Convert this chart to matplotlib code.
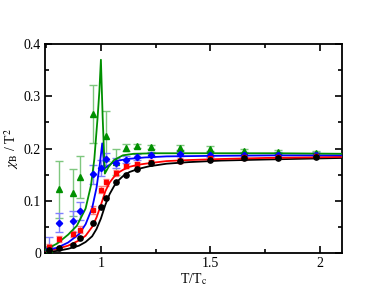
import numpy as np
import matplotlib
matplotlib.use("Agg")
import matplotlib.pyplot as plt
from matplotlib.ticker import MultipleLocator

plt.rcParams['font.family'] = ['Liberation Serif', 'DejaVu Serif']
plt.rcParams['mathtext.fontset'] = 'stix'

# lattice points
T_pts = [0.763, 0.808, 0.874, 0.903, 0.962, 1.002, 1.022, 1.068, 1.113, 1.163, 1.23, 1.36, 1.5, 1.653, 1.81, 1.98]
black_pts = [0.005, 0.010, 0.015, 0.028, 0.057, 0.088, 0.105, 0.135, 0.149, 0.160, 0.172, 0.177, 0.179, 0.181, 0.182, 0.183]
red_pts = [0.012, 0.027, 0.036, 0.045, 0.082, 0.121, 0.135, 0.153, 0.167, 0.171, 0.174, 0.177, 0.181, 0.183, 0.184, 0.185]
red_err = [0.005, 0.005, 0.006, 0.006, 0.008, 0.007, 0.006, 0.005, 0.004, 0.004, 0.004, 0.004, 0.004, 0.004, 0.004, 0.004]
blue_pts = [0.010, 0.058, 0.061, 0.080, 0.151, 0.163, 0.180, 0.172, 0.179, 0.184, 0.188, 0.190, 0.188, 0.188, 0.188, 0.188]
blue_err = [0.020, 0.018, 0.020, 0.017, 0.018, 0.015, 0.012, 0.010, 0.006, 0.005, 0.005, 0.005, 0.005, 0.005, 0.005, 0.005]
green_pts = [0.008, 0.122, 0.115, 0.146, 0.266, None, 0.224, 0.175, 0.202, 0.205, 0.203, 0.202, 0.200, 0.196, 0.193, 0.192]
green_err = [0.005, 0.055, 0.045, 0.040, 0.055, None, 0.048, 0.025, 0.006, 0.004, 0.004, 0.004, 0.004, 0.004, 0.004, 0.004]

# model curves
T_curve = [0.745, 0.80, 0.85, 0.90, 0.93, 0.96, 0.98, 1.0, 1.02, 1.04, 1.06, 1.08, 1.10, 1.13, 1.17, 1.22, 1.30, 1.40, 1.55, 1.75, 2.1]
black_curve = [0.002, 0.004, 0.008, 0.014, 0.021, 0.032, 0.046, 0.066, 0.092, 0.113, 0.128, 0.139, 0.147, 0.155, 0.161, 0.166, 0.171, 0.174, 0.177, 0.179, 0.182]
red_curve = [0.004, 0.008, 0.014, 0.024, 0.033, 0.050, 0.068, 0.092, 0.118, 0.135, 0.146, 0.154, 0.159, 0.165, 0.169, 0.172, 0.176, 0.178, 0.180, 0.182, 0.184]
T_blue = [0.745, 0.80, 0.85, 0.90, 0.93, 0.96, 0.98, 0.995, 1.006, 1.016, 1.03, 1.05, 1.08, 1.12, 1.2, 1.3, 1.5, 1.8, 2.1]
blue_curve = [0.005, 0.010, 0.020, 0.036, 0.055, 0.086, 0.125, 0.170, 0.210, 0.162, 0.166, 0.172, 0.177, 0.180, 0.183, 0.185, 0.186, 0.187, 0.187]
T_green = [0.745, 0.80, 0.85, 0.89, 0.93, 0.955, 0.97, 0.985, 0.993, 1.0, 1.008, 1.018, 1.035, 1.06, 1.10, 1.15, 1.25, 1.5, 1.8, 2.1]
green_curve = [0.006, 0.018, 0.035, 0.052, 0.085, 0.130, 0.180, 0.260, 0.310, 0.370, 0.260, 0.152, 0.165, 0.178, 0.187, 0.190, 0.191, 0.191, 0.191, 0.190]

GREEN = '#009000'
BLUE = '#0000ff'
RED = '#ff0000'

fig = plt.figure(figsize=(3.85, 2.98), dpi=100)
ax = fig.add_axes([0.117, 0.151, 0.771, 0.701])

ax.plot(T_curve, black_curve, color='k', lw=1.3, zorder=3)
ax.plot(T_curve, red_curve, color=RED, lw=1.3, zorder=3)
ax.plot(T_blue, blue_curve, color=BLUE, lw=1.3, zorder=3)
ax.plot(T_green, green_curve, color=GREEN, lw=1.3, zorder=3)

g = [(t, v, e) for t, v, e in zip(T_pts, green_pts, green_err) if v is not None]
gt, gv, ge = zip(*g)
ax.errorbar(gt, gv, yerr=ge, fmt='none', ecolor='#7fc77f', elinewidth=1, capsize=3, zorder=2)
ax.plot(gt, gv, '^', color=GREEN, ms=4.2, zorder=4)
ax.errorbar(T_pts, blue_pts, yerr=blue_err, fmt='none', ecolor='#8080ff', elinewidth=1, capsize=3, zorder=2)
ax.plot(T_pts, blue_pts, 'D', color=BLUE, ms=3.2, zorder=4)
ax.errorbar(T_pts, red_pts, yerr=red_err, fmt='none', ecolor='#ff8080', elinewidth=1, capsize=2, zorder=2)
ax.plot(T_pts, red_pts, 's', color=RED, ms=3.4, zorder=4)
ax.plot(T_pts, black_pts, 'o', color='k', ms=3.8, zorder=4)

ax.set_xlim(0.745, 2.1)
ax.set_ylim(0, 0.4)
ax.xaxis.set_minor_locator(MultipleLocator(0.25))
ax.yaxis.set_minor_locator(MultipleLocator(0.05))
ax.set_xticks([1, 1.5, 2])
ax.set_xticklabels(['1', '1.5', '2'])
ax.set_yticks([0, 0.1, 0.2, 0.3, 0.4])
ax.set_yticklabels(['0', '0.1', '0.2', '0.3', '0.4'])
ax.tick_params(which='both', direction='in', top=True, right=True, labelsize=10, width=1.2, pad=3)
ax.tick_params(which='major', length=5)
ax.tick_params(which='minor', length=3)
for s in ax.spines.values():
    s.set_linewidth(1.3)

ax.set_xlabel(r'T/T$_{\rm c}$', fontsize=10, labelpad=1)
ax.set_ylabel(r'$\chi_{\rm B}$ / T$^2$', fontsize=10, labelpad=2)

fig.savefig('out.png', dpi=100)
